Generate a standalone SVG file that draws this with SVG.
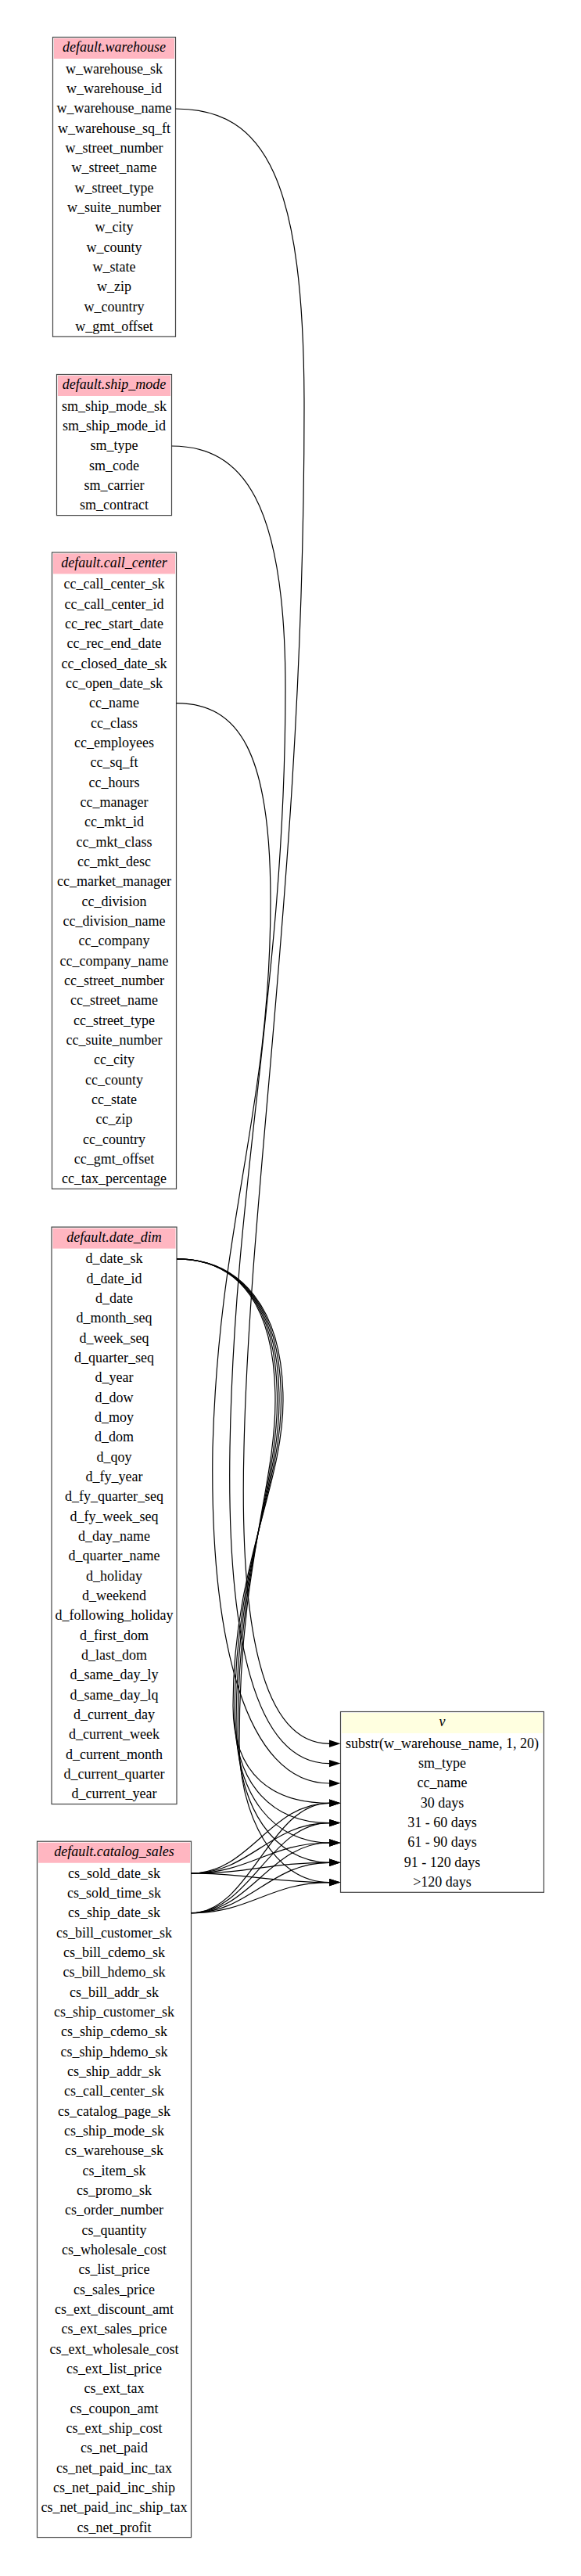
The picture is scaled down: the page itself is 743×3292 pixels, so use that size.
<svg xmlns="http://www.w3.org/2000/svg" width="743" height="3292" viewBox="0 0 743 3292">
<style>
.t{font-family:"Liberation Serif","Times New Roman",serif;font-size:18px;text-anchor:middle;fill:#000}
.h{font-style:italic}
.box{fill:#fff;stroke:#444;stroke-width:1.2}
.hp{fill:#ffb6c1}
.hy{fill:#ffffe0}
.e{fill:none;stroke:#000;stroke-width:1.2;marker-end:url(#ah)}
</style>
<defs>
<marker id="ah" markerUnits="userSpaceOnUse" markerWidth="15" markerHeight="10" refX="0" refY="5" orient="auto" viewBox="0 0 15 10" overflow="visible">
<path d="M0,0.3 L14.5,5 L0,9.7 z" fill="#000"/>
</marker>
</defs>
<rect width="743" height="3292" fill="#fff"/>

<g id="warehouse" transform="translate(0,88.3)">
<rect class="box" x="67.5" y="-40.8" width="157" height="382.8"/>
<rect class="hp" x="69" y="-39.3" width="154" height="26"/>
<text class="t h" x="146" y="-22">default.warehouse</text>
<text class="t" x="146" y="5.5">w_warehouse_sk</text>
<text class="t" x="146" y="30.83">w_warehouse_id</text>
<text class="t" x="146" y="56.17">w_warehouse_name</text>
<text class="t" x="146" y="81.5">w_warehouse_sq_ft</text>
<text class="t" x="146" y="106.83">w_street_number</text>
<text class="t" x="146" y="132.17">w_street_name</text>
<text class="t" x="146" y="157.5">w_street_type</text>
<text class="t" x="146" y="182.83">w_suite_number</text>
<text class="t" x="146" y="208.17">w_city</text>
<text class="t" x="146" y="233.5">w_county</text>
<text class="t" x="146" y="258.83">w_state</text>
<text class="t" x="146" y="284.17">w_zip</text>
<text class="t" x="146" y="309.5">w_country</text>
<text class="t" x="146" y="334.83">w_gmt_offset</text>
</g>

<g id="ship_mode" transform="translate(0,519.3)">
<rect class="box" x="72.5" y="-40.8" width="147" height="180.1"/>
<rect class="hp" x="74" y="-39.3" width="144" height="26"/>
<text class="t h" x="146" y="-22">default.ship_mode</text>
<text class="t" x="146" y="5.5">sm_ship_mode_sk</text>
<text class="t" x="146" y="30.83">sm_ship_mode_id</text>
<text class="t" x="146" y="56.17">sm_type</text>
<text class="t" x="146" y="81.5">sm_code</text>
<text class="t" x="146" y="106.83">sm_carrier</text>
<text class="t" x="146" y="132.17">sm_contract</text>
</g>

<g id="call_center" transform="translate(0,746.7)">
<rect class="box" x="66.5" y="-40.8" width="159" height="813.4"/>
<rect class="hp" x="68" y="-39.3" width="156" height="26"/>
<text class="t h" x="146" y="-22">default.call_center</text>
<text class="t" x="146" y="5.5">cc_call_center_sk</text>
<text class="t" x="146" y="30.83">cc_call_center_id</text>
<text class="t" x="146" y="56.17">cc_rec_start_date</text>
<text class="t" x="146" y="81.5">cc_rec_end_date</text>
<text class="t" x="146" y="106.83">cc_closed_date_sk</text>
<text class="t" x="146" y="132.17">cc_open_date_sk</text>
<text class="t" x="146" y="157.5">cc_name</text>
<text class="t" x="146" y="182.83">cc_class</text>
<text class="t" x="146" y="208.17">cc_employees</text>
<text class="t" x="146" y="233.5">cc_sq_ft</text>
<text class="t" x="146" y="258.83">cc_hours</text>
<text class="t" x="146" y="284.17">cc_manager</text>
<text class="t" x="146" y="309.5">cc_mkt_id</text>
<text class="t" x="146" y="334.83">cc_mkt_class</text>
<text class="t" x="146" y="360.17">cc_mkt_desc</text>
<text class="t" x="146" y="385.5">cc_market_manager</text>
<text class="t" x="146" y="410.83">cc_division</text>
<text class="t" x="146" y="436.17">cc_division_name</text>
<text class="t" x="146" y="461.5">cc_company</text>
<text class="t" x="146" y="486.83">cc_company_name</text>
<text class="t" x="146" y="512.17">cc_street_number</text>
<text class="t" x="146" y="537.5">cc_street_name</text>
<text class="t" x="146" y="562.83">cc_street_type</text>
<text class="t" x="146" y="588.17">cc_suite_number</text>
<text class="t" x="146" y="613.5">cc_city</text>
<text class="t" x="146" y="638.83">cc_county</text>
<text class="t" x="146" y="664.17">cc_state</text>
<text class="t" x="146" y="689.5">cc_zip</text>
<text class="t" x="146" y="714.83">cc_country</text>
<text class="t" x="146" y="740.17">cc_gmt_offset</text>
<text class="t" x="146" y="765.5">cc_tax_percentage</text>
</g>

<g id="date_dim" transform="translate(0,1608.9)">
<rect class="box" x="66" y="-40.8" width="160" height="737.4"/>
<rect class="hp" x="67.5" y="-39.3" width="157" height="26"/>
<text class="t h" x="146" y="-22">default.date_dim</text>
<text class="t" x="146" y="5.5">d_date_sk</text>
<text class="t" x="146" y="30.83">d_date_id</text>
<text class="t" x="146" y="56.17">d_date</text>
<text class="t" x="146" y="81.5">d_month_seq</text>
<text class="t" x="146" y="106.83">d_week_seq</text>
<text class="t" x="146" y="132.17">d_quarter_seq</text>
<text class="t" x="146" y="157.5">d_year</text>
<text class="t" x="146" y="182.83">d_dow</text>
<text class="t" x="146" y="208.17">d_moy</text>
<text class="t" x="146" y="233.5">d_dom</text>
<text class="t" x="146" y="258.83">d_qoy</text>
<text class="t" x="146" y="284.17">d_fy_year</text>
<text class="t" x="146" y="309.5">d_fy_quarter_seq</text>
<text class="t" x="146" y="334.83">d_fy_week_seq</text>
<text class="t" x="146" y="360.17">d_day_name</text>
<text class="t" x="146" y="385.5">d_quarter_name</text>
<text class="t" x="146" y="410.83">d_holiday</text>
<text class="t" x="146" y="436.17">d_weekend</text>
<text class="t" x="146" y="461.5">d_following_holiday</text>
<text class="t" x="146" y="486.83">d_first_dom</text>
<text class="t" x="146" y="512.17">d_last_dom</text>
<text class="t" x="146" y="537.5">d_same_day_ly</text>
<text class="t" x="146" y="562.83">d_same_day_lq</text>
<text class="t" x="146" y="588.17">d_current_day</text>
<text class="t" x="146" y="613.5">d_current_week</text>
<text class="t" x="146" y="638.83">d_current_month</text>
<text class="t" x="146" y="664.17">d_current_quarter</text>
<text class="t" x="146" y="689.5">d_current_year</text>
</g>

<g id="catalog_sales" transform="translate(0,2394)">
<rect class="box" x="47.5" y="-40.8" width="197" height="889.4"/>
<rect class="hp" x="49" y="-39.3" width="194" height="26"/>
<text class="t h" x="146" y="-22">default.catalog_sales</text>
<text class="t" x="146" y="5.5">cs_sold_date_sk</text>
<text class="t" x="146" y="30.83">cs_sold_time_sk</text>
<text class="t" x="146" y="56.17">cs_ship_date_sk</text>
<text class="t" x="146" y="81.5">cs_bill_customer_sk</text>
<text class="t" x="146" y="106.83">cs_bill_cdemo_sk</text>
<text class="t" x="146" y="132.17">cs_bill_hdemo_sk</text>
<text class="t" x="146" y="157.5">cs_bill_addr_sk</text>
<text class="t" x="146" y="182.83">cs_ship_customer_sk</text>
<text class="t" x="146" y="208.17">cs_ship_cdemo_sk</text>
<text class="t" x="146" y="233.5">cs_ship_hdemo_sk</text>
<text class="t" x="146" y="258.83">cs_ship_addr_sk</text>
<text class="t" x="146" y="284.17">cs_call_center_sk</text>
<text class="t" x="146" y="309.5">cs_catalog_page_sk</text>
<text class="t" x="146" y="334.83">cs_ship_mode_sk</text>
<text class="t" x="146" y="360.17">cs_warehouse_sk</text>
<text class="t" x="146" y="385.5">cs_item_sk</text>
<text class="t" x="146" y="410.83">cs_promo_sk</text>
<text class="t" x="146" y="436.17">cs_order_number</text>
<text class="t" x="146" y="461.5">cs_quantity</text>
<text class="t" x="146" y="486.83">cs_wholesale_cost</text>
<text class="t" x="146" y="512.17">cs_list_price</text>
<text class="t" x="146" y="537.5">cs_sales_price</text>
<text class="t" x="146" y="562.83">cs_ext_discount_amt</text>
<text class="t" x="146" y="588.17">cs_ext_sales_price</text>
<text class="t" x="146" y="613.5">cs_ext_wholesale_cost</text>
<text class="t" x="146" y="638.83">cs_ext_list_price</text>
<text class="t" x="146" y="664.17">cs_ext_tax</text>
<text class="t" x="146" y="689.5">cs_coupon_amt</text>
<text class="t" x="146" y="714.83">cs_ext_ship_cost</text>
<text class="t" x="146" y="740.17">cs_net_paid</text>
<text class="t" x="146" y="765.5">cs_net_paid_inc_tax</text>
<text class="t" x="146" y="790.83">cs_net_paid_inc_ship</text>
<text class="t" x="146" y="816.17">cs_net_paid_inc_ship_tax</text>
<text class="t" x="146" y="841.5">cs_net_profit</text>
</g>

<g id="v" transform="translate(0,2228.3)">
<rect class="box" x="435.5" y="-40.8" width="260" height="230.8"/>
<rect class="hy" x="437" y="-39.3" width="257" height="26"/>
<text class="t h" x="565.5" y="-22">v</text>
<text class="t" x="565.5" y="5.5">substr(w_warehouse_name, 1, 20)</text>
<text class="t" x="565.5" y="30.83">sm_type</text>
<text class="t" x="565.5" y="56.17">cc_name</text>
<text class="t" x="565.5" y="81.5">30 days</text>
<text class="t" x="565.5" y="106.83">31 - 60 days</text>
<text class="t" x="565.5" y="132.17">61 - 90 days</text>
<text class="t" x="565.5" y="157.5">91 - 120 days</text>
<text class="t" x="565.5" y="182.83">&gt;120 days</text>
</g>

<g id="connectors">
<path class="e" d="M224.5,139 C340,139 389,230 389,520 C389,1100 320,1500 312,1850 C306,2080 335,2228.3 421,2228.3"/>
<path class="e" d="M219.5,570 C310,570 365,640 365,880 C365,1250 300,1500 294,1850 C290,2090 325,2253.6 421,2253.6"/>
<path class="e" d="M225.5,898.7 C305,898.7 346,960 346,1150 C346,1420 280,1560 272,1850 C268,2100 315,2279 421,2279"/>

<path class="e" d="M226,1608.9 C308,1608.9 362,1672 362,1790 C362,1900 298,2000 298,2180 C298,2270 350,2304.3 421,2304.3"/>
<path class="e" d="M226,1608.9 C308,1608.9 359.5,1672 359.5,1790 C359.5,1900 300,2000 300,2192 C300,2282 350,2329.6 421,2329.6"/>
<path class="e" d="M226,1608.9 C308,1608.9 357,1672 357,1790 C357,1900 302,2000 302,2204 C302,2294 350,2355 421,2355"/>
<path class="e" d="M226,1608.9 C308,1608.9 354.5,1672 354.5,1790 C354.5,1900 304,2000 304,2216 C304,2306 350,2380.3 421,2380.3"/>
<path class="e" d="M226,1608.9 C308,1608.9 352,1672 352,1790 C352,1900 306,2000 306,2228 C306,2318 350,2405.6 421,2405.6"/>

<path class="e" d="M244.5,2394 C320,2394 345,2304.3 421,2304.3"/>
<path class="e" d="M244.5,2394 C320,2394 345,2329.6 421,2329.6"/>
<path class="e" d="M244.5,2394 C320,2394 345,2355 421,2355"/>
<path class="e" d="M244.5,2394 C320,2394 345,2380.3 421,2380.3"/>
<path class="e" d="M244.5,2394 C320,2394 345,2405.6 421,2405.6"/>

<path class="e" d="M244.5,2444.7 C320,2444.7 345,2304.3 421,2304.3"/>
<path class="e" d="M244.5,2444.7 C320,2444.7 345,2329.6 421,2329.6"/>
<path class="e" d="M244.5,2444.7 C320,2444.7 345,2355 421,2355"/>
<path class="e" d="M244.5,2444.7 C320,2444.7 345,2380.3 421,2380.3"/>
<path class="e" d="M244.5,2444.7 C320,2444.7 345,2405.6 421,2405.6"/>
</g>
</svg>
